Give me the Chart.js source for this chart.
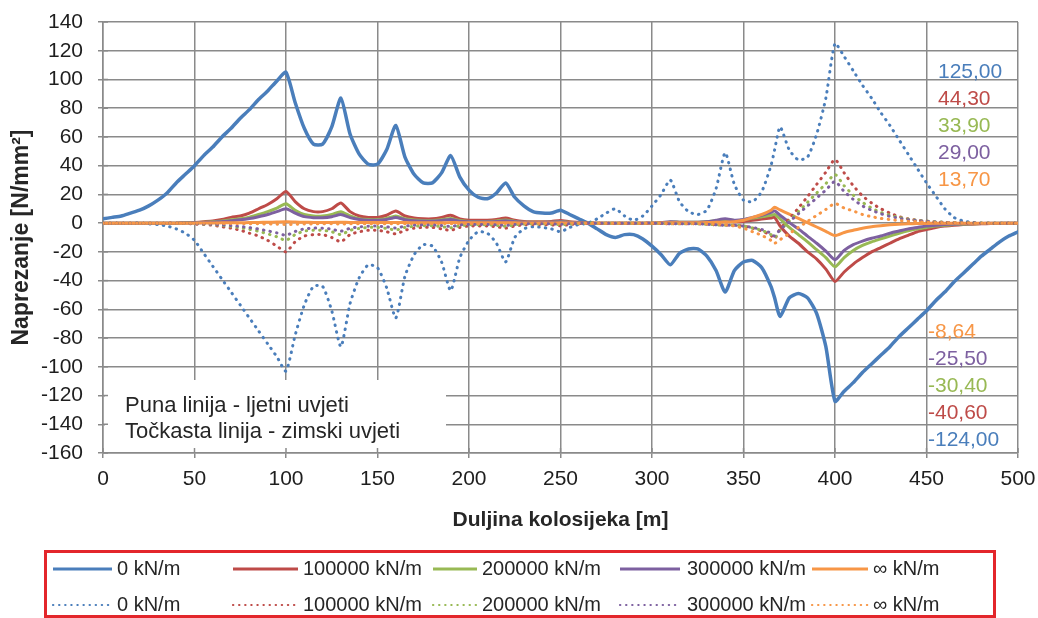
<!DOCTYPE html>
<html>
<head>
<meta charset="utf-8">
<script src="https://cdn.jsdelivr.net/npm/chart.js@4.4.1/dist/chart.umd.min.js"></script>
<style>
html,body{margin:0;padding:0;background:#fff;}
#wrap{position:relative;width:1038px;height:618px;}
</style>
</head>
<body>
<div id="wrap"><canvas id="c" width="1038" height="618"></canvas></div>
<script>
// ---------------- DATA ----------------
const distance = [
  0,5,10,15,20,25,30,35,40,45,
  50,55,60,65,70,75,80,85,90,95,
  100,105,110,115,120,125,130,135,140,145,
  150,155,160,165,170,175,180,185,190,195,
  200,205,210,215,220,225,230,235,240,245,
  250,255,260,265,270,275,280,285,290,295,
  300,305,310,315,320,325,330,335,340,345,
  350,355,360,365,367,370,375,380,385,390,395,
  400,405,410,415,420,425,430,435,440,445,
  450,455,460,465,470,475,480,485,490,495,500
];

// Summer (solid) series
const summer0 = [
  3,4,5,7,9,12,16,21,28,34,
  40,47,53,60,66,73,79,86,92,99,
  105,84,66,55,55,67,87,62,48,41,
  41,51,68,46,34,28,28,35,47,32,
  23,18,17,21,28,18,12,8,7,7,
  9,6,3,0,-4,-8,-10,-8,-8,-11,
  -16,-22,-29,-21,-18,-18,-23,-33,-48,-33,
  -27,-26,-31,-44,-52,-65,-52,-49,-52,-63,-86,
  -124,-117,-111,-104,-98,-92,-86,-79,-73,-67,
  -61,-54,-48,-41,-35,-29,-23,-18,-13,-9,-6
];
const summer100k = [
  0,0,0,0,0,0,0,0,0,0.3,
  0.5,1,1.5,2.5,4,5,7,10,13,17,
  22,15,10,8,8,10,14,8,5,4,
  4,5.5,8.5,5,3.5,3,3,4,5.5,3,
  2,2,2,2.5,3.5,2,1.2,1,1,1.2,
  1.8,1,0.5,0,0,0,0,0,0,0,
  0,0.2,0.5,0.5,0.5,0.5,0.8,1.2,1.5,1,
  1.2,2,2.8,3.6,4,-2,-9,-14,-20,-25,-32,
  -40.6,-34,-28.5,-24,-20,-17,-14,-11,-8.5,-6,
  -4.5,-3,-2,-1.5,-1,-0.7,-0.5,-0.3,-0.2,-0.1,0
];
const summer200k = [
  0,0,0,0,0,0,0,0,0,0.2,
  0.3,0.6,1,1.5,2.3,3,4.2,6,8,10.5,
  13.5,9,6,5,5,6,8,5,3,2.5,
  2.5,3.3,5,3,2.2,1.8,1.8,2.4,3.3,1.8,
  1.2,1.2,1.2,1.5,2.2,1.2,0.7,0.6,0.6,0.7,
  1.1,0.6,0.3,0,0,0,0,0,0,0,
  0,0.3,0.8,0.7,0.6,0.7,1,1.8,2.5,1.8,
  2.2,3.5,4.5,5.5,6,3,-3,-8,-13,-18.5,-24,
  -30.4,-24,-19,-15.5,-13,-11,-9,-7,-5.3,-4,
  -3,-2,-1.5,-1,-0.7,-0.5,-0.3,-0.2,-0.1,0,0
];
const summer300k = [
  0,0,0,0,0,0,0,0,0,0.1,
  0.2,0.4,0.7,1.1,1.7,2.3,3.2,4.5,6,8,
  10,7,4.5,3.8,3.8,4.5,6,3.8,2.6,2,
  2,2.6,4,2.4,1.7,1.4,1.4,1.9,2.6,1.4,
  1,1,1,1.2,1.7,1,0.6,0.5,0.5,0.6,
  0.9,0.5,0.3,0,0,0,0,0,0,0,
  0,0.3,1,0.7,0.6,0.7,1,2,3,2,
  2.5,4,5.5,7.5,8.5,5.5,0.5,-4,-9,-14,-19.5,
  -25.5,-19,-15,-12.5,-10.5,-9,-7,-5.5,-4,-3,
  -2,-1.5,-1,-0.7,-0.5,-0.3,-0.2,-0.1,0,0,0
];
const summerInf = [
  0,0,0,0,0,0,0,0,0,0,
  0,0.1,0.1,0.2,0.2,0.3,0.4,0.5,0.6,0.8,
  1,0.8,0.6,0.5,0.5,0.5,0.6,0.5,0.4,0.4,
  0.4,0.4,0.5,0.4,0.3,0.3,0.3,0.3,0.4,0.3,
  0.2,0.2,0.2,0.2,0.3,0.2,0.1,0.1,0.1,0.1,
  0.2,0.1,0,0,0,0,0,0,0,0,
  0,0.1,0.3,0.3,0.3,0.3,0.4,0.6,0.8,1,
  2,4,6,9,11,9.2,6.2,3.3,0.3,-2.7,-5.7,
  -8.64,-6.5,-5,-3.5,-2.5,-1.8,-1.2,-0.8,-0.5,-0.3,
  -0.2,-0.1,-0.1,0,0,0,0,0,0,0,0
];

// Winter (dotted) series
const winter0 = [
  0,0,0,0,0,-0.5,-1,-2,-4,-7,
  -12,-21,-30,-39,-48,-57,-66,-75,-84,-93,
  -103,-78,-57,-44,-44,-61,-86,-56,-38,-29,
  -31,-45,-66,-37,-22,-15,-16,-27,-47,-24,
  -12,-6,-7,-14,-27,-10,-4,-2.5,-3,-4,
  -6,-3,-1,0,3,7,10,5,2,5,
  12,20,30,15,8,6,9,24,49,27,
  16,15,22,40,51,67,51,44,46,62,87,
  125,116,106,96,87,77,68,58,48,38,
  28,19,10,4,1.5,0.5,0,0,0,0,0
];
const winter100k = [
  0,0,0,0,0,0,0,0,0,-0.3,
  -0.6,-1,-1.5,-2.5,-3.5,-5,-7,-9,-12,-16,
  -20,-13,-9,-8,-8,-10,-13,-8,-6,-5,
  -5,-6,-7.5,-5,-3.5,-3,-3,-4,-5,-3,
  -2,-2,-2,-2.5,-3.5,-2,-1.2,-1,-1,-1.2,
  -1.8,-1,-0.5,0,0,0,0,0,0,0,
  0,-0.2,-0.5,-0.5,-0.5,-0.5,-0.8,-1.2,-1.5,-1.5,
  -2,-3.5,-5.5,-8.5,-11,-4,3,10.5,18.5,27,35.5,
  44.3,35,26,19,14,10,7,4.5,3,2,
  1.3,0.8,0.5,0.3,0.2,0.1,0,0,0,0,0
];
const winter200k = [
  0,0,0,0,0,0,0,0,0,-0.2,
  -0.4,-0.7,-1,-1.6,-2.3,-3.2,-4.3,-5.7,-7.5,-9.5,
  -12,-8,-5.5,-5,-5,-6,-8,-5,-3.7,-3,
  -3,-3.7,-4.8,-3,-2.2,-1.8,-1.8,-2.4,-3.2,-1.8,
  -1.2,-1.2,-1.2,-1.5,-2.2,-1.2,-0.7,-0.6,-0.6,-0.7,
  -1.1,-0.6,-0.3,0,0,0,0,0,0,0,
  0,-0.2,-0.5,-0.5,-0.5,-0.5,-0.8,-1.2,-1.5,-1.5,
  -2,-3.5,-5,-8,-10,-5,1.5,8,14.5,21,27.5,
  33.9,26,19.5,14.5,10.5,7.5,5.5,4,2.8,2,
  1.4,1,0.6,0.4,0.3,0.2,0.1,0,0,0,0
];
const winter300k = [
  0,0,0,0,0,0,0,0,0,-0.1,
  -0.3,-0.5,-0.8,-1.2,-1.7,-2.3,-3.1,-4.1,-5.4,-6.8,
  -8.5,-5.8,-4,-3.5,-3.5,-4.2,-5.6,-3.6,-2.6,-2.1,
  -2.1,-2.6,-3.4,-2.1,-1.5,-1.3,-1.3,-1.7,-2.3,-1.3,
  -0.9,-0.9,-0.9,-1.1,-1.6,-0.9,-0.5,-0.4,-0.4,-0.5,
  -0.8,-0.4,-0.2,0,0,0,0,0,0,0,
  0,-0.2,-0.5,-0.5,-0.5,-0.5,-0.8,-1.2,-1.5,-1.5,
  -2,-3,-4.5,-7,-9,-4.5,1,6.5,12,17.5,23,
  29,22,16.5,12,9,6.5,4.7,3.4,2.4,1.7,
  1.2,0.8,0.5,0.3,0.2,0.1,0,0,0,0,0
];
const winterInf = [
  0,0,0,0,0,0,0,0,0,0,
  0,-0.1,-0.1,-0.2,-0.2,-0.3,-0.4,-0.5,-0.6,-0.8,
  -1,-0.8,-0.6,-0.5,-0.5,-0.5,-0.6,-0.5,-0.4,-0.4,
  -0.4,-0.4,-0.5,-0.4,-0.3,-0.3,-0.3,-0.3,-0.4,-0.3,
  -0.2,-0.2,-0.2,-0.2,-0.3,-0.2,-0.1,-0.1,-0.1,-0.1,
  -0.2,-0.1,0,0,0,0,0,0,0,0,
  0,-0.1,-0.3,-0.3,-0.3,-0.3,-0.5,-0.7,-1,-2,
  -3.5,-6,-8.5,-12,-14,-11.5,-7.3,-3,1.2,5.4,9.5,
  13.7,10.5,8.5,6,4.5,3.3,2.5,1.8,1.3,1,
  0.7,0.5,0.3,0.2,0.1,0,0,0,0,0,0
];

const seriesLabels = ['0 kN/m', '100000 kN/m', '200000 kN/m', '300000 kN/m', '\u221e kN/m'];
const xTicks = [0, 50, 100, 150, 200, 250, 300, 350, 400, 450, 500];
const yTicks = [-160, -140, -120, -100, -80, -60, -40, -20, 0, 20, 40, 60, 80, 100, 120, 140];
const maxLabels = ['125,00', '44,30', '33,90', '29,00', '13,70'];
const minLabels = ['-8,64', '-25,50', '-30,40', '-40,60', '-124,00'];
const noteLines = ['Puna linija - ljetni uvjeti', 'To\u010dkasta linija - zimski uvjeti'];
const xTitle = 'Duljina kolosijeka [m]';
const yTitle = 'Naprezanje [N/mm\u00b2]';

// ---------------- STYLE ----------------
const colors = ['#4A7EBB', '#BE4B48', '#98B954', '#7D60A0', '#F79646'];
const gridColor = '#8a8a8a';
const textColor = '#1e1e1e';
const FONT = '"Liberation Sans", Arial, sans-serif';

const summerSeries = [summer0, summer100k, summer200k, summer300k, summerInf];
const winterSeries = [winter0, winter100k, winter200k, winter300k, winterInf];

const datasets = [];
summerSeries.forEach((arr, i) => {
  datasets.push({
    label: seriesLabels[i],
    data: distance.map((x, k) => ({ x: x, y: arr[k] })),
    borderColor: colors[i],
    borderWidth: i === 0 ? 3.5 : 3,
    pointRadius: 0,
    tension: 0.2,
    borderJoinStyle: 'round',
    borderCapStyle: 'round',
    order: 20 - i,
    _dotted: false
  });
});
winterSeries.forEach((arr, i) => {
  datasets.push({
    label: seriesLabels[i],
    data: distance.map((x, k) => ({ x: x, y: arr[k] })),
    borderColor: colors[i],
    borderWidth: 3,
    borderDash: [0.5, 6.2],
    borderCapStyle: 'round',
    pointRadius: 0,
    tension: 0.2,
    order: 10 - i,
    _dotted: true
  });
});

const overlay = {
  id: 'overlay',
  beforeDatasetsDraw(chart) {
    const { ctx, chartArea: a, scales: { x, y } } = chart;
    ctx.save();
    // note box (covers grid lines)
    ctx.fillStyle = '#ffffff';
    ctx.fillRect(a.left + 2, a.bottom - 73, 341, 72);
    // cross tick marks reaching into plot
    ctx.strokeStyle = gridColor;
    ctx.lineWidth = 1.5;
    x.ticks.forEach(t => {
      const px = x.getPixelForValue(t.value);
      ctx.beginPath(); ctx.moveTo(px, a.bottom); ctx.lineTo(px, a.bottom - 5); ctx.stroke();
    });
    y.ticks.forEach(t => {
      const py = y.getPixelForValue(t.value);
      ctx.beginPath(); ctx.moveTo(a.left, py); ctx.lineTo(a.left + 5, py); ctx.stroke();
    });
    ctx.fillStyle = '#262626';
    ctx.font = '22px ' + FONT;
    ctx.textBaseline = 'alphabetic';
    ctx.textAlign = 'left';
    ctx.fillText(noteLines[0], a.left + 22, a.bottom - 41);
    ctx.fillText(noteLines[1], a.left + 22, a.bottom - 15);
    ctx.restore();
  },
  afterDraw(chart) {
    const { ctx, chartArea: a } = chart;
    ctx.save();
    // value annotations on the right
    ctx.font = '21px ' + FONT;
    ctx.textBaseline = 'middle';
    ctx.textAlign = 'left';
    maxLabels.forEach((t, i) => {
      ctx.fillStyle = colors[i];
      ctx.fillText(t, a.left + 835, a.top + 50 + 27 * i);
    });
    minLabels.forEach((t, i) => {
      ctx.fillStyle = colors[4 - i];
      ctx.fillText(t, a.left + 825, a.top + 310 + 27 * i);
    });

    // legend
    ctx.strokeStyle = '#E3262B';
    ctx.lineWidth = 3;
    ctx.setLineDash([]);
    ctx.strokeRect(45.5, 551.5, 949, 65);
    const lineStart = [53, 233, 433, 620, 812];
    const lineEnd = [112, 298, 477, 680, 868];
    const textX = [117, 303, 482, 687, 873];
    const rowY = [569, 605];
    ctx.font = '20px ' + FONT;
    ctx.fillStyle = '#262626';
    ctx.textBaseline = 'middle';
    chart.data.datasets.forEach((ds, k) => {
      const row = ds._dotted ? 1 : 0;
      const col = k % 5;
      const yy = rowY[row];
      ctx.beginPath();
      ctx.strokeStyle = ds.borderColor;
      if (ds._dotted) {
        ctx.lineWidth = 2.2;
        ctx.lineCap = 'round';
        ctx.setLineDash([0.3, 5.8]);
      } else {
        ctx.lineWidth = 3;
        ctx.lineCap = 'butt';
        ctx.setLineDash([]);
      }
      ctx.moveTo(lineStart[col], yy);
      ctx.lineTo(lineEnd[col], yy);
      ctx.stroke();
      ctx.setLineDash([]);
      ctx.fillStyle = '#262626';
      ctx.fillText(ds.label, textX[col], yy);
    });
    ctx.restore();
  }
};

new Chart(document.getElementById('c'), {
  type: 'line',
  data: { datasets: datasets },
  plugins: [overlay],
  options: {
    responsive: false,
    devicePixelRatio: 1,
    animation: false,
    events: [],
    layout: { padding: { top: 22, right: 20, left: 0, bottom: 73 } },
    plugins: { legend: { display: false }, tooltip: { enabled: false } },
    scales: {
      x: {
        type: 'linear',
        min: 0, max: 500,
        afterBuildTicks: s => { s.ticks = xTicks.map(v => ({ value: v })); },
        afterFit: s => { s.height = 92; s.paddingLeft = 0; s.paddingRight = 0; },
        ticks: { font: { family: FONT, size: 21 }, color: textColor, padding: 9, maxRotation: 0, autoSkip: false },
        grid: { color: gridColor, lineWidth: 1.5, tickLength: 5, drawTicks: true },
        border: { color: gridColor, width: 1.5 },
        title: { display: true, text: xTitle, color: '#262626',
                 font: { family: FONT, size: 21, weight: 'bold', lineHeight: 1.2 },
                 padding: { top: 0, bottom: 12 } }
      },
      y: {
        min: -160, max: 140,
        afterBuildTicks: s => { s.ticks = yTicks.map(v => ({ value: v })); },
        afterFit: s => { s.width = 103; s.paddingTop = 0; s.paddingBottom = 0; },
        ticks: { font: { family: FONT, size: 21 }, color: textColor, padding: 15 },
        grid: { color: gridColor, lineWidth: 1.5, tickLength: 5, drawTicks: true },
        border: { color: gridColor, width: 1.5 },
        title: { display: true, text: yTitle, color: '#262626',
                 font: { family: FONT, size: 23, weight: 'bold', lineHeight: 1.2 },
                 padding: { top: 8, bottom: 0 } }
      }
    }
  }
});
</script>
</body>
</html>
